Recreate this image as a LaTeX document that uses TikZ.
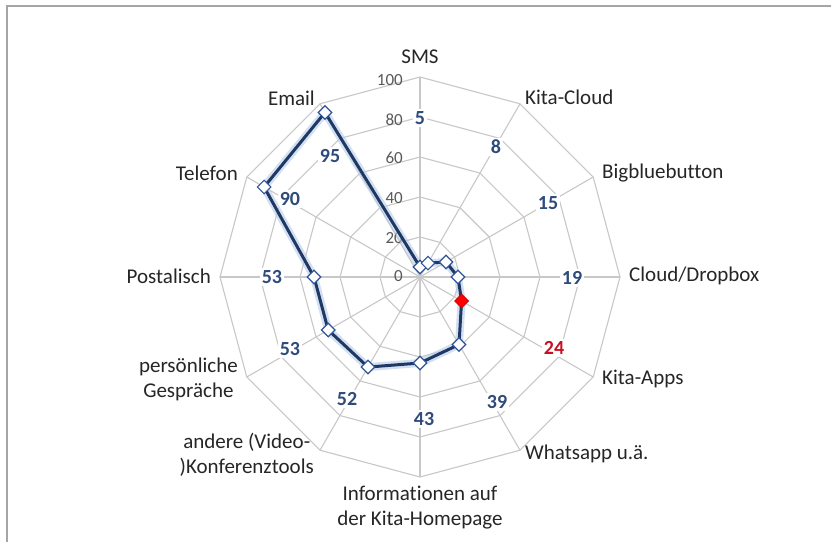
\documentclass[tikz,border=0pt]{standalone}
\usepackage{fontspec}
\setmainfont[Ligatures={NoCommon}]{Carlito}
\usetikzlibrary{shapes.geometric}
\definecolor{gridc}{RGB}{200,200,200}
\definecolor{serc}{RGB}{31,56,100}
\definecolor{valc}{RGB}{47,75,124}
\definecolor{redc}{RGB}{200,16,32}
\definecolor{markc}{RGB}{47,85,151}
\definecolor{glowc}{RGB}{175,200,232}
\definecolor{tickc}{RGB}{89,89,89}
\definecolor{framec}{RGB}{165,165,165}
\definecolor{labc}{RGB}{38,38,38}
\begin{document}
\begin{tikzpicture}[x=1pt,y=1pt,
  axlabel/.style={font=\fontsize{21}{25}\selectfont, text=labc, inner sep=0pt, align=center},
  vallabel/.style={font=\fontsize{20}{24}\selectfont\bfseries, text=valc, fill=white, inner sep=2pt},
  ticklabel/.style={font=\fontsize{17}{20}\selectfont, text=tickc, anchor=east, inner sep=0pt},
  marker/.style={diamond, draw=markc, fill=white, line width=1.2pt, minimum size=14pt, inner sep=0pt},
  redmarker/.style={diamond, draw=red!85!black, fill=red, line width=1pt, minimum size=14pt, inner sep=0pt},
  gridline/.style={draw=gridc, line width=1.1pt}]
\useasboundingbox (-420,-265) rectangle (411,277);
\fill[white] (-420,-265) rectangle (411,277);
\draw[framec, line width=1.5pt] (-413,-265) -- (-413,271) -- (411,271);
% grid
\foreach \r in {40,80,120,160,200} {
  \draw[gridline] (90:\r) \foreach \a in {60,30,...,-240} { -- (\a:\r) } -- cycle;
}
\foreach \a in {90,60,...,-240} { \draw[gridline] (0,0) -- (\a:200); }
% tick labels
\node[ticklabel] (t0) at (-17,1) {0};
\node[ticklabel] (t20) at (-17,39) {20};
\node[ticklabel] (t40) at (-17,79) {40};
\node[ticklabel] (t60) at (-17,119) {60};
\node[ticklabel] (t80) at (-17,157) {80};
\node[ticklabel] (t100) at (-17,197) {100};
% axis labels
\node[axlabel] (lSMS) at (0,220) {SMS};
\node[axlabel, anchor=west] (lKC) at (105,180) {Kita-Cloud};
\node[axlabel, anchor=west] (lBBB) at (182,104) {Bigbluebutton};
\node[axlabel, anchor=west] (lCD) at (209,1) {Cloud/Dropbox};
\node[axlabel, anchor=west] (lKA) at (182,-102) {Kita-Apps};
\node[axlabel, anchor=west] (lWA) at (105,-177) {Whatsapp u.ä.};
\node[axlabel] (lInfo) at (0,-230.5) {Informationen auf\\der Kita-Homepage};
\node[axlabel, anchor=east] (lAnd) at (-106,-178) {andere (Video-\\)Konferenztools};
\node[axlabel, anchor=east] (lPers) at (-182,-102.5) {persönliche\\Gespräche};
\node[axlabel, anchor=east] (lPost) at (-209,1) {Postalisch};
\node[axlabel, anchor=east] (lTel) at (-182,104) {Telefon};
\node[axlabel, anchor=east] (lMail) at (-105,179) {Email};
% value labels
\node[vallabel] (v0) at (0,159) {5};
\node[vallabel] (v1) at (76,130) {8};
\node[vallabel] (v2) at (128,74) {15};
\node[vallabel] (v3) at (152,-1) {19};
\node[vallabel, text=redc] (v4) at (134,-71) {24};
\node[vallabel] (v5) at (77,-125) {39};
\node[vallabel] (v6) at (4,-142) {43};
\node[vallabel] (v7) at (-73,-122) {52};
\node[vallabel] (v8) at (-130,-72) {53};
\node[vallabel] (v9) at (-148,0) {53};
\node[vallabel] (v10) at (-130,78) {90};
\node[vallabel] (v11) at (-90,121) {95};
% data points
\foreach \v [count=\i from 0, evaluate=\i as \a using 90-30*\i] in {5,8,15,19,24,39,43,52,53,53,90,95} {
  \coordinate (c\i) at (\a:{2*\v});
}
\draw[glowc, opacity=0.55, line width=8pt, line join=round] (c0) \foreach \i in {1,...,11} { -- (c\i) } -- cycle;
\draw[serc, line width=3pt, line join=round] (c0) \foreach \i in {1,...,11} { -- (c\i) } -- cycle;
\foreach \i in {0,1,2,3,5,6,7,8,9,10,11} { \node[marker] (m\i) at (c\i) {}; }
\node[redmarker] (m4) at (c4) {};
\end{tikzpicture}
\end{document}
